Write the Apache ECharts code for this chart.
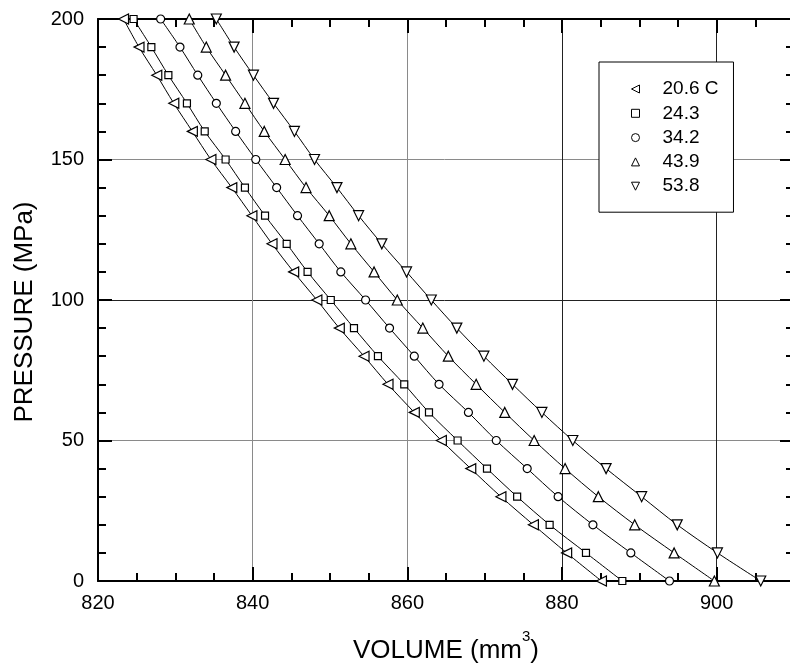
<!DOCTYPE html>
<html>
<head>
<meta charset="utf-8">
<script src="https://cdn.jsdelivr.net/npm/echarts@6/dist/echarts.min.js"></script>
<style>
  html, body { margin: 0; padding: 0; background: #fff; }
  #main { width: 790px; height: 666px; }
</style>
</head>
<body>
<div id="main"></div>
<script>
// pressure steps (MPa)
const pressures = [0, 10, 20, 30, 40, 50, 60, 70, 80, 90, 100, 110, 120, 130, 140, 150, 160, 170, 180, 190, 200];
// volume (mm3) per temperature
const vol206 = [885.1, 880.6, 876.3, 872.1, 868.2, 864.4, 860.9, 857.5, 854.4, 851.2, 848.3, 845.3, 842.5, 839.9, 837.3, 834.6, 832.2, 829.8, 827.6, 825.3, 823.3];
const vol243 = [887.8, 883.1, 878.4, 874.2, 870.3, 866.5, 862.8, 859.6, 856.2, 853.1, 850.1, 847.1, 844.4, 841.6, 839.0, 836.5, 833.8, 831.5, 829.1, 826.9, 824.6];
const vol342 = [893.9, 888.9, 884.0, 879.5, 875.5, 871.5, 867.9, 864.1, 860.9, 857.7, 854.6, 851.4, 848.6, 845.8, 843.1, 840.4, 837.8, 835.3, 832.9, 830.6, 828.1];
const vol439 = [899.7, 894.5, 889.4, 884.7, 880.4, 876.4, 872.6, 868.9, 865.3, 862.0, 858.7, 855.7, 852.7, 849.9, 846.9, 844.2, 841.5, 839.0, 836.5, 834.0, 831.8];
const vol538 = [905.7, 900.1, 894.9, 890.3, 885.7, 881.4, 877.4, 873.6, 869.9, 866.4, 863.1, 859.9, 856.7, 853.7, 850.9, 848.0, 845.4, 842.7, 840.1, 837.6, 835.3];
const seriesNames = ['20.6 C', '24.3', '34.2', '43.9', '53.8'];

const triLeft = 'path://M0,5L10,0L10,10Z';
const triUp = 'path://M5,0L10,10L0,10Z';
const triDown = 'path://M0,0L10,0L5,10Z';
const symbols = [triLeft, 'rect', 'circle', triUp, triDown];
const symbolSizes = [10, 7, 8, 10, 10];
const volumes = [vol206, vol243, vol342, vol439, vol538];

const font = 'Liberation Sans, Arial, sans-serif';
const chart = echarts.init(document.getElementById('main'));

function makeSeries(i) {
  return {
    name: seriesNames[i],
    type: 'line',
    smooth: 0.3,
    data: volumes[i].map((v, k) => [v, pressures[k]]),
    symbol: symbols[i],
    symbolSize: symbolSizes[i],
    showAllSymbol: true,
    lineStyle: { color: '#000', width: 1 },
    itemStyle: { color: '#fff', borderColor: '#000', borderWidth: 1.2 },
    emphasis: { disabled: true },
    z: 3
  };
}

const axisLine = { show: true, onZero: false, lineStyle: { color: '#000', width: 2 } };
// ticks point into the plot on all four sides
const majorTick = { show: true, inside: true, length: 14, lineStyle: { color: '#000', width: 2 } };
function minor(n) {
  return { show: true, splitNumber: n, length: 8, lineStyle: { color: '#000', width: 2 } };
}

const option = {
  backgroundColor: '#fff',
  animation: false,
  grid: { left: 98, top: 19, right: -4, bottom: 85, outerBoundsMode: 'none' },
  legend: {
    orient: 'vertical',
    left: 599,
    top: 62,
    padding: [17, 15, 16, 32],
    itemGap: 4.3,
    itemWidth: 8,
    itemHeight: 8,
    selectedMode: false,
    backgroundColor: '#fff',
    borderColor: '#000',
    borderWidth: 1,
    textStyle: { fontFamily: font, fontSize: 19, color: '#000', lineHeight: 20, padding: [0, 0, 0, 18] },
    itemStyle: { color: '#fff', borderColor: '#000', borderWidth: 1 },
    data: seriesNames.map((n, i) => ({ name: n, icon: symbols[i] }))
  },
  xAxis: [
    {
      type: 'value',
      min: 820,
      max: 910,
      interval: 20,
      position: 'bottom',
      axisLine: axisLine,
      axisTick: majorTick,
      minorTick: minor(4),
      name: '{t|VOLUME (mm}{s|3}{t|)}',
      nameLocation: 'middle',
      nameGap: 48,
      nameTextStyle: {
        rich: {
          t: { fontFamily: font, fontSize: 26, color: '#000', verticalAlign: 'bottom' },
          s: { fontFamily: font, fontSize: 15, color: '#000', verticalAlign: 'top', padding: [0, 0, 20, 0] }
        }
      },
      axisLabel: {
        margin: 12,
        fontFamily: font,
        fontSize: 20,
        color: '#000',
        formatter: v => (v % 20 === 0 ? String(v) : '')
      },
      splitLine: { show: true, showMinLine: false, lineStyle: { color: ['#8a8a8a', '#8a8a8a', '#222', '#222', '#222'], width: 1 } }
    },
    {
      type: 'value',
      min: 820,
      max: 910,
      interval: 20,
      position: 'top',
      axisLine: axisLine,
      axisTick: majorTick,
      minorTick: minor(4),
      axisLabel: { show: false },
      splitLine: { show: false }
    }
  ],
  yAxis: [
    {
      type: 'value',
      min: 0,
      max: 200,
      interval: 50,
      position: 'left',
      axisLine: axisLine,
      axisTick: majorTick,
      minorTick: minor(5),
      name: 'PRESSURE (MPa)',
      nameLocation: 'middle',
      nameGap: 60,
      nameTextStyle: { fontFamily: font, fontSize: 26, color: '#000', padding: [0, 24, 0, 0] },
      axisLabel: { margin: 14, fontFamily: font, fontSize: 20, color: '#000' },
      splitLine: { show: true, showMinLine: false, showMaxLine: false, lineStyle: { color: ['#8a8a8a', '#222', '#8a8a8a'], width: 1 } }
    },
    {
      type: 'value',
      min: 0,
      max: 200,
      interval: 50,
      position: 'right',
      axisLine: axisLine,
      axisTick: majorTick,
      minorTick: minor(5),
      axisLabel: { show: false },
      splitLine: { show: false }
    }
  ],
  series: [0, 1, 2, 3, 4].map(makeSeries)
};

chart.setOption(option);
</script>
</body>
</html>
